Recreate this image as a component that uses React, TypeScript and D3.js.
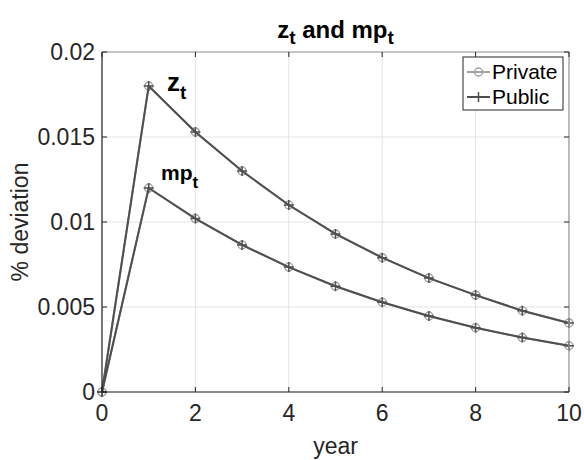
import React, { useEffect, useRef } from "react";
import * as d3 from "d3";

// years 0..10
const years = [0, 1, 2, 3, 4, 5, 6, 7, 8, 9, 10];
// z_t response (% deviation)
const zPrivate = [0, 0.018, 0.0153, 0.0130, 0.0110, 0.0093, 0.0079, 0.0067, 0.0057, 0.00478, 0.00406];
const zPublic = [0, 0.018, 0.0153, 0.0130, 0.0110, 0.0093, 0.0079, 0.0067, 0.0057, 0.00478, 0.00406];
// mp_t response
const mpPrivate = [0, 0.0120, 0.0102, 0.00865, 0.00735, 0.00622, 0.00528, 0.00447, 0.00378, 0.00320, 0.00272];
const mpPublic = [0, 0.0120, 0.0102, 0.00865, 0.00735, 0.00622, 0.00528, 0.00447, 0.00378, 0.00320, 0.00272];

const xTicks = [0, 2, 4, 6, 8, 10];
const yTicks = [0, 0.005, 0.01, 0.015, 0.02];
const yTickLabels = ["0", "0.005", "0.01", "0.015", "0.02"];

const W = 584;
const H = 460;
const m = { left: 102, right: 15, top: 52, bottom: 68 };
const FONT = "'Liberation Sans', Helvetica, Arial, sans-serif";

export default function App() {
  const svgRef = useRef<SVGSVGElement>(null);

  useEffect(() => {
    const svg = d3.select(svgRef.current);
    svg.selectAll("*").remove();

    const x = d3.scaleLinear().domain([0, 10]).range([m.left, W - m.right]);
    const y = d3.scaleLinear().domain([0, 0.02]).range([H - m.bottom, m.top]);
    const [x0, x1] = x.range();
    const [y0, y1] = y.range();

    // grid
    const grid = svg.append("g").attr("stroke", "#e3e3e3").attr("stroke-width", 1);
    xTicks.forEach(t => {
      grid.append("line").attr("x1", x(t)).attr("x2", x(t)).attr("y1", y0).attr("y2", y1);
    });
    yTicks.forEach(t => {
      grid.append("line").attr("x1", x0).attr("x2", x1).attr("y1", y(t)).attr("y2", y(t));
    });

    // series
    const line = d3.line<number>().x((_, i) => x(years[i])).y(d => y(d));
    const drawSeries = (vals: number[], color: string, marker: "o" | "+") => {
      svg.append("path").datum(vals).attr("d", line).attr("fill", "none")
        .attr("stroke", color).attr("stroke-width", 2);
      const g = svg.append("g");
      vals.forEach((v, i) => {
        const cx = x(years[i]);
        const cy = y(v);
        if (marker === "o") {
          g.append("circle").attr("cx", cx).attr("cy", cy).attr("r", 4)
            .attr("fill", "none").attr("stroke", color).attr("stroke-width", 1.5);
        } else {
          g.append("path").attr("d", `M${cx - 5},${cy}H${cx + 5}M${cx},${cy - 5}V${cy + 5}`)
            .attr("stroke", color).attr("stroke-width", 1.5);
        }
      });
    };
    drawSeries(zPrivate, "#a3a3a3", "o");
    drawSeries(mpPrivate, "#a3a3a3", "o");
    drawSeries(zPublic, "#4f4f4f", "+");
    drawSeries(mpPublic, "#4f4f4f", "+");

    // axes box
    svg.append("line").attr("x1", x0).attr("x2", x1).attr("y1", y1).attr("y2", y1)
      .attr("stroke", "#9a9a9a").attr("stroke-width", 1.2);
    svg.append("line").attr("x1", x1).attr("x2", x1).attr("y1", y0).attr("y2", y1)
      .attr("stroke", "#9a9a9a").attr("stroke-width", 1.2);
    svg.append("line").attr("x1", x0).attr("x2", x1).attr("y1", y0).attr("y2", y0)
      .attr("stroke", "#262626").attr("stroke-width", 1.2);
    svg.append("line").attr("x1", x0).attr("x2", x0).attr("y1", y0).attr("y2", y1)
      .attr("stroke", "#262626").attr("stroke-width", 1.2);

    // inward ticks
    const tk = svg.append("g").attr("stroke", "#262626").attr("stroke-width", 1);
    xTicks.forEach(t => {
      tk.append("line").attr("x1", x(t)).attr("x2", x(t)).attr("y1", y0).attr("y2", y0 - 5);
      tk.append("line").attr("x1", x(t)).attr("x2", x(t)).attr("y1", y1).attr("y2", y1 + 5);
    });
    yTicks.forEach(t => {
      tk.append("line").attr("x1", x0).attr("x2", x0 + 5).attr("y1", y(t)).attr("y2", y(t));
      tk.append("line").attr("x1", x1).attr("x2", x1 - 5).attr("y1", y(t)).attr("y2", y(t));
    });

    // tick labels
    const lab = svg.append("g").attr("font-family", FONT).attr("font-size", 23).attr("fill", "#262626");
    xTicks.forEach(t => {
      lab.append("text").attr("x", x(t)).attr("y", y0 + 21).attr("dy", "0.35em")
        .attr("text-anchor", "middle").text(String(t));
    });
    yTicks.forEach((t, i) => {
      lab.append("text").attr("x", x0 - 7).attr("y", y(t)).attr("dy", "0.35em")
        .attr("text-anchor", "end").text(yTickLabels[i]);
    });

    // axis titles
    svg.append("text").attr("x", (x0 + x1) / 2).attr("y", 446).attr("dy", "0.35em")
      .attr("text-anchor", "middle").attr("font-family", FONT).attr("font-size", 23)
      .attr("fill", "#262626").text("year");
    svg.append("text").attr("transform", `translate(20,${(y0 + y1) / 2}) rotate(-90)`)
      .attr("dy", "0.35em").attr("text-anchor", "middle").attr("font-family", FONT)
      .attr("font-size", 23).attr("fill", "#262626").text("% deviation");

    // title
    const title = svg.append("text").attr("x", (x0 + x1) / 2).attr("y", 38)
      .attr("text-anchor", "middle").attr("font-family", FONT).attr("font-size", 24)
      .attr("font-weight", "bold").attr("fill", "#000");
    title.append("tspan").text("z");
    title.append("tspan").attr("dy", 6).attr("font-size", 19).text("t");
    title.append("tspan").attr("dy", -6).text(" and mp");
    title.append("tspan").attr("dy", 6).attr("font-size", 19).text("t");

    // series labels
    const zl = svg.append("text").attr("x", 167).attr("y", 91).attr("font-family", FONT)
      .attr("font-size", 26).attr("font-weight", "bold").attr("fill", "#000");
    zl.append("tspan").text("z");
    zl.append("tspan").attr("dy", 8).attr("font-size", 19).text("t");
    const ml = svg.append("text").attr("x", 161).attr("y", 180).attr("font-family", FONT)
      .attr("font-size", 21).attr("font-weight", "bold").attr("fill", "#000");
    ml.append("tspan").text("mp");
    ml.append("tspan").attr("dy", 8).attr("font-size", 17).text("t");

    // legend
    const lg = svg.append("g");
    lg.append("rect").attr("x", 463).attr("y", 57).attr("width", 100).attr("height", 53)
      .attr("fill", "#fff").attr("stroke", "#262626").attr("stroke-width", 1);
    const items = [
      { name: "Private", color: "#a3a3a3", marker: "o", cy: 72 },
      { name: "Public", color: "#4f4f4f", marker: "+", cy: 97 },
    ];
    items.forEach(it => {
      lg.append("line").attr("x1", 467).attr("x2", 490).attr("y1", it.cy).attr("y2", it.cy)
        .attr("stroke", it.color).attr("stroke-width", 2);
      if (it.marker === "o") {
        lg.append("circle").attr("cx", 478.5).attr("cy", it.cy).attr("r", 4)
          .attr("fill", "none").attr("stroke", it.color).attr("stroke-width", 1.5);
      } else {
        lg.append("path").attr("d", `M473.5,${it.cy}H483.5M478.5,${it.cy - 5}V${it.cy + 5}`)
          .attr("stroke", it.color).attr("stroke-width", 1.5);
      }
      lg.append("text").attr("x", 492).attr("y", it.cy).attr("dy", "0.35em")
        .attr("font-family", FONT).attr("font-size", 21).attr("fill", "#000").text(it.name);
    });
  }, []);

  return (
    <svg ref={svgRef} width={W} height={H}
      style={{ display: "block", position: "absolute", left: 0, top: 0, background: "#fff" }} />
  );
}
